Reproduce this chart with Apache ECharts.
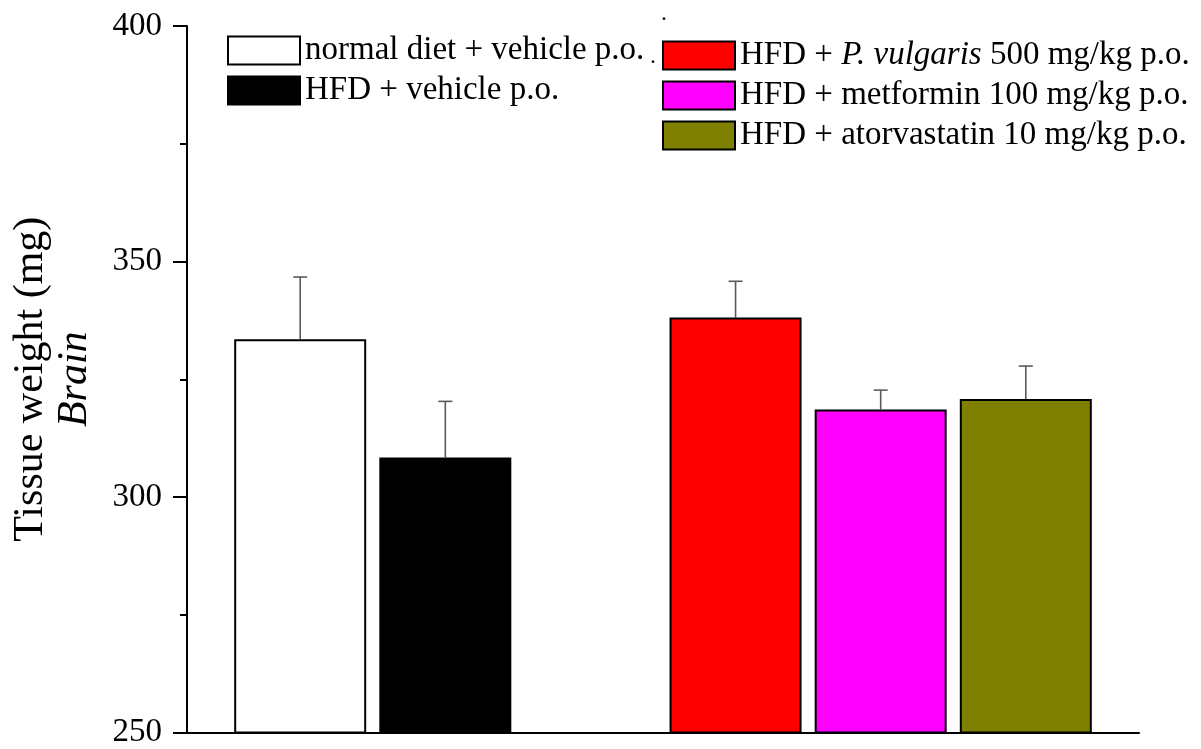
<!DOCTYPE html>
<html>
<head>
<meta charset="utf-8">
<script src="https://cdn.jsdelivr.net/npm/echarts@6/dist/echarts.min.js"></script>
<style>
  html, body { margin: 0; padding: 0; background: #fff; }
  #main { width: 1201px; height: 749px; }
</style>
</head>
<body>
<div id="main"></div>
<script>
// groups, bar slots (slot 3 left empty), mean and SD
const groups = [
  'normal diet + vehicle p.o.',
  'HFD + vehicle p.o.',
  'HFD + P. vulgaris 500 mg/kg p.o.',
  'HFD + metformin 100 mg/kg p.o.',
  'HFD + atorvastatin 10 mg/kg p.o.'
]
const slots = [1, 2, 4, 5, 6]
const means = [333.5, 308.4, 338.1, 318.6, 320.8]
const errs = [13.2, 11.9, 7.7, 4.1, 7.0]
const colors = ['#ffffff', '#000000', '#ff0000', '#ff00ff', '#808000']
const yMin = 250, yMax = 400, yStep = 50

const FONT = "'Liberation Serif', 'Times New Roman', serif"
const chart = echarts.init(document.getElementById('main'))

const barSeries = groups.map((g, i) => ({
  name: g,
  type: 'bar',
  barWidth: 132,
  barGap: '-100%',
  itemStyle: {color: colors[i], borderColor: '#000', borderWidth: 2},
  data: [[slots[i], means[i]]],
  z: 2
}))

// upward error bars only
const errSeries = {
  type: 'custom',
  data: slots.map((s, i) => [s, means[i], means[i] + errs[i]]),
  renderItem: (params, api) => {
    const p0 = api.coord([api.value(0), api.value(1)])
    const p1 = api.coord([api.value(0), api.value(2)])
    const half = 7
    const style = {stroke: '#5a5a5a', lineWidth: 1.6}
    return {
      type: 'group',
      children: [
        {type: 'line', shape: {x1: p0[0], y1: p0[1], x2: p1[0], y2: p1[1]}, style},
        {type: 'line', shape: {x1: p1[0] - half, y1: p1[1], x2: p1[0] + half, y2: p1[1]}, style}
      ]
    }
  },
  z: 1
}

const legendText = {
  fontFamily: FONT, fontSize: 33, color: '#000',
  rich: {
    n: {fontFamily: FONT, fontSize: 33, color: '#000'},
    i: {fontFamily: FONT, fontSize: 33, color: '#000', fontStyle: 'italic'}
  }
}
const legendFmt = name => {
  if (name.indexOf('P. vulgaris') >= 0) {
    return '{n|HFD + }{i|P. vulgaris}{n| 500 mg/kg p.o.}'
  }
  return '{n|' + name + '}'
}

let option = {
  backgroundColor: '#ffffff',
  animation: false,
  grid: {left: 187, right: 62, top: 26, bottom: 15},
  legend: [
    {
      data: groups.slice(0, 2),
      orient: 'vertical',
      left: 227, top: 34,
      padding: 0,
      icon: 'rect',
      itemWidth: 72, itemHeight: 28, itemGap: 7,
      textStyle: legendText,
      formatter: legendFmt,
      selectedMode: false
    },
    {
      data: groups.slice(2),
      orient: 'vertical',
      left: 662, top: 39,
      padding: 0,
      icon: 'rect',
      itemWidth: 72, itemHeight: 28, itemGap: 7,
      textStyle: legendText,
      formatter: legendFmt,
      selectedMode: false
    }
  ],
  graphic: [
    {type: 'text', left: 661, top: 2, style: {text: '.', font: '24px ' + FONT, fill: '#000'}},
    {type: 'text', left: 650, top: 45, style: {text: '.', font: '24px ' + FONT, fill: '#000'}}
  ],
  xAxis: {
    type: 'value',
    min: 0.22, max: 6.78,
    axisLine: {show: true, lineStyle: {color: '#000', width: 2}},
    axisTick: {show: false},
    axisLabel: {show: false},
    splitLine: {show: false}
  },
  yAxis: {
    type: 'value',
    min: yMin, max: yMax, interval: yStep,
    name: '{a|Tissue weight (mg)}\n{b|Brain}',
    nameLocation: 'middle',
    nameRotate: 90,
    nameGap: 90,
    nameTextStyle: {
      fontFamily: FONT, color: '#000', lineHeight: 44,
      rich: {
        a: {fontFamily: FONT, fontSize: 42, color: '#000', lineHeight: 44},
        b: {fontFamily: FONT, fontSize: 42, color: '#000', fontStyle: 'italic', lineHeight: 44}
      }
    },
    axisLine: {show: true, lineStyle: {color: '#000', width: 2}},
    axisTick: {show: true, inside: false, length: 14, lineStyle: {color: '#000', width: 2}},
    minorTick: {show: true, splitNumber: 2, length: 7, lineStyle: {color: '#000', width: 2}},
    axisLabel: {fontFamily: FONT, fontSize: 33, color: '#000', margin: 25},
    splitLine: {show: false}
  },
  series: [...barSeries, errSeries]
}

option && chart.setOption(option)
</script>
</body>
</html>
